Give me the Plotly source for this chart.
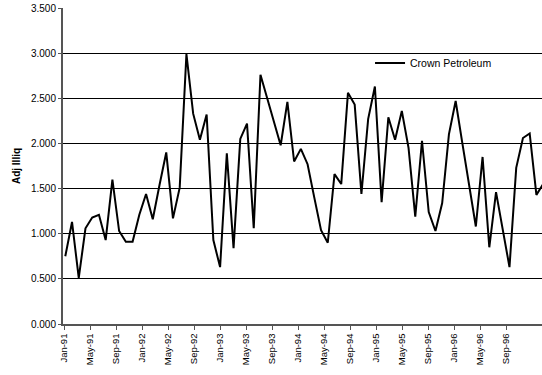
import plotly.graph_objects as go

# Monthly adjusted illiquidity, Jan-1991 .. Dec-1996
months = [f"{m}-{y}" for y in range(91, 97)
          for m in ["Jan", "Feb", "Mar", "Apr", "May", "Jun",
                    "Jul", "Aug", "Sep", "Oct", "Nov", "Dec"]]

adj_illiq_1991 = [0.75, 1.13, 0.51, 1.06, 1.18, 1.21, 0.93, 1.60, 1.03, 0.91, 0.91, 1.21]
adj_illiq_1992 = [1.44, 1.16, 1.54, 1.90, 1.17, 1.51, 2.99, 2.33, 2.04, 2.32, 0.93, 0.63]
adj_illiq_1993 = [1.89, 0.84, 2.05, 2.22, 1.06, 2.76, 2.50, 2.24, 1.98, 2.46, 1.80, 1.94]
adj_illiq_1994 = [1.77, 1.40, 1.04, 0.90, 1.66, 1.55, 2.56, 2.43, 1.44, 2.27, 2.63, 1.35]
adj_illiq_1995 = [2.29, 2.04, 2.36, 1.95, 1.19, 2.03, 1.24, 1.03, 1.34, 2.10, 2.47, 2.00]
adj_illiq_1996 = [1.55, 1.08, 1.85, 0.85, 1.46, 1.04, 0.63, 1.73, 2.06, 2.11, 1.43, 1.55]

adj_illiq = (adj_illiq_1991 + adj_illiq_1992 + adj_illiq_1993 +
             adj_illiq_1994 + adj_illiq_1995 + adj_illiq_1996)

y_ticks = [0.0, 0.5, 1.0, 1.5, 2.0, 2.5, 3.0, 3.5]

idx = list(range(len(months)))
# every fourth month is labelled; the label grid runs slightly tighter
# than the monthly point spacing
label_idx = idx[::4][:18]
label_step = 3.863
tick_pos = [-0.19 + label_step * k for k in range(len(label_idx))]
tick_text = [months[i] for i in label_idx]

FONT = "Arial, Liberation Sans, sans-serif"

fig = go.Figure()
fig.add_trace(go.Scatter(
    x=idx, y=adj_illiq, mode="lines", name="Crown Petroleum",
    line=dict(color="black", width=2),
))

fig.update_layout(
    width=542, height=375,
    margin=dict(l=63, r=0, t=8, b=51),
    paper_bgcolor="white", plot_bgcolor="white",
    font=dict(family=FONT, size=10, color="black"),
    showlegend=True,
    legend=dict(
        x=0.641, y=0.826, xanchor="left", yanchor="middle",
        bgcolor="rgba(0,0,0,0)", font=dict(size=10.5, family=FONT),
        itemwidth=30,
    ),
)

fig.update_xaxes(
    range=[-0.34, 70.83],
    tickmode="array", tickvals=tick_pos, ticktext=tick_text,
    tickangle=-90, tickfont=dict(size=9.5),
    ticks="outside", ticklen=4, tickcolor="#555555",
    showgrid=False, zeroline=False,
    showline=True, linecolor="#555555", linewidth=1.5,
)

fig.update_yaxes(
    range=[0, 3.5],
    tickmode="array", tickvals=y_ticks,
    tickformat=".3f",
    ticks="outside", ticklen=3, tickcolor="#555555",
    showgrid=True, gridcolor="black", gridwidth=1,
    zeroline=False,
    showline=True, linecolor="#555555", linewidth=2,
    title=dict(text="<b>Adj Illiq</b>", font=dict(size=10), standoff=8),
    automargin=False,
)

fig.write_html("out.html")
